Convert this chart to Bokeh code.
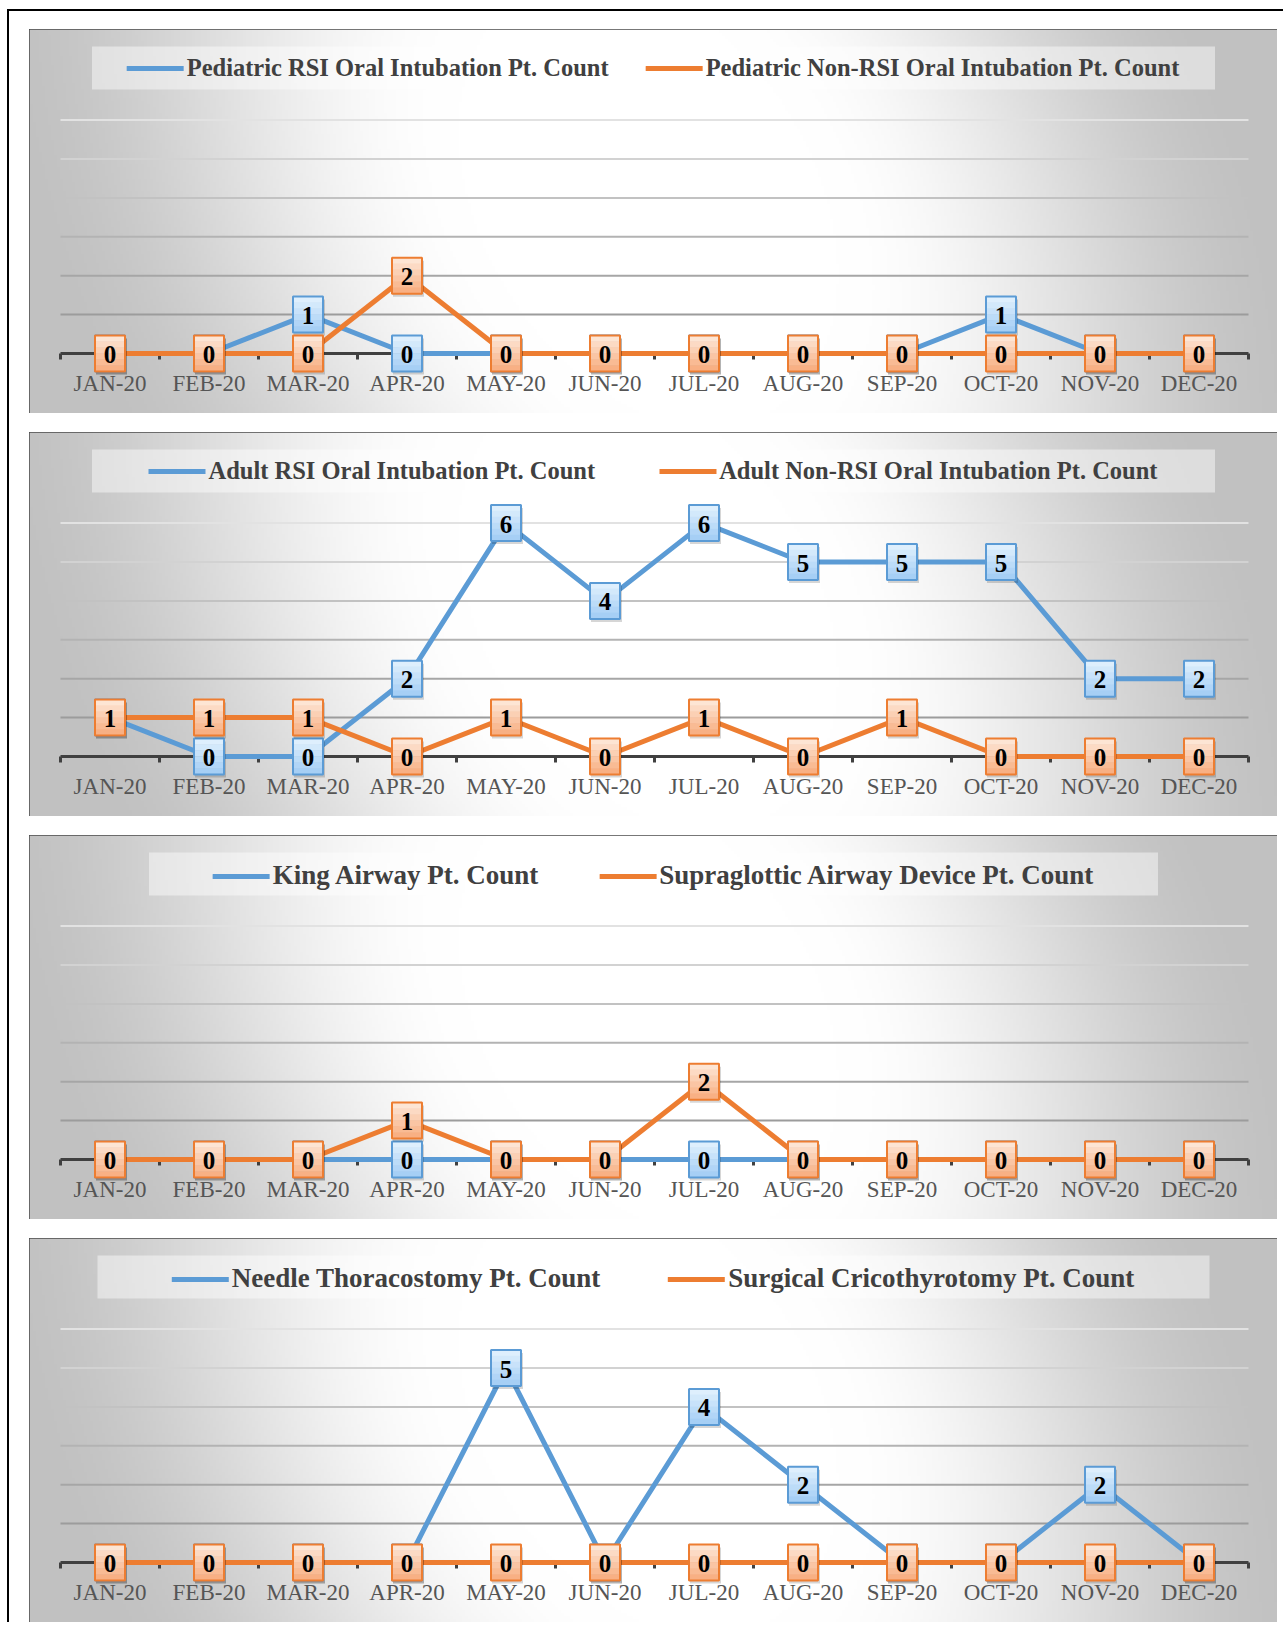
import numpy as np
from bokeh.plotting import figure
from bokeh.models import (ColumnDataSource, LinearAxis, FixedTicker, Range1d,
                          Legend, LegendItem)
from bokeh.layouts import column
from bokeh.embed import file_html
from bokeh.resources import INLINE
from bokeh.core.properties import value

# ---------------- data ----------------
months = ["JAN-20", "FEB-20", "MAR-20", "APR-20", "MAY-20", "JUN-20",
          "JUL-20", "AUG-20", "SEP-20", "OCT-20", "NOV-20", "DEC-20"]

ped_rsi_name = "Pediatric RSI Oral Intubation Pt. Count"
ped_rsi = [0, 0, 1, 0, 0, 0, 0, 0, 0, 1, 0, 0]
ped_nonrsi_name = "Pediatric Non-RSI Oral Intubation Pt. Count"
ped_nonrsi = [0, 0, 0, 2, 0, 0, 0, 0, 0, 0, 0, 0]

adult_rsi_name = "Adult RSI Oral Intubation Pt. Count"
adult_rsi = [1, 0, 0, 2, 6, 4, 6, 5, 5, 5, 2, 2]
adult_nonrsi_name = "Adult Non-RSI Oral Intubation Pt. Count"
adult_nonrsi = [1, 1, 1, 0, 1, 0, 1, 0, 1, 0, 0, 0]

king_name = "King Airway Pt. Count"
king = [0, 0, 0, 0, 0, 0, 0, 0, 0, 0, 0, 0]
sga_name = "Supraglottic Airway Device Pt. Count"
sga = [0, 0, 0, 1, 0, 0, 2, 0, 0, 0, 0, 0]

needle_name = "Needle Thoracostomy Pt. Count"
needle = [0, 0, 0, 0, 5, 0, 4, 2, 0, 0, 2, 0]
cric_name = "Surgical Cricothyrotomy Pt. Count"
cric = [0, 0, 0, 0, 0, 0, 0, 0, 0, 0, 0, 0]

y_ticks = [0, 1, 2, 3, 4, 5, 6]

# ---------------- style ----------------
BLUE = "#5b9bd5"
ORANGE = "#ed7d31"
BLUE_TOP, BLUE_BOTTOM = (222, 239, 253), (166, 207, 245)
ORANGE_TOP, ORANGE_BOTTOM = (253, 229, 212), (248, 176, 132)
GRID_COLORS = ["#9c9c9c", "#a6a6a6", "#b3b3b3", "#c2c2c2", "#d2d2d2", "#e2e2e2"]
SERIF = "Liberation Serif"

PW, PH = 1248, 384
LEFT_PX, RIGHT_PX = 31, 29
UNIT_X = 99.0
Y0_PX = 60
UNIT_Y = 38.9
BOX_W, BOX_H = 30, 36
N_BANDS = 6
LEG_TOP, LEG_H = 17, 43

n = len(months)
xs = list(range(n))
x_start = -0.5 - LEFT_PX / UNIT_X
x_end = n - 0.5 + RIGHT_PX / UNIT_X
y_start = -Y0_PX / UNIT_Y
y_end = (PH - Y0_PX) / UNIT_Y


def gradient(w, h):
    jj, ii = np.meshgrid(np.arange(w), np.arange(h))
    px = (jj + 0.5) * PW / w
    py_top = PH - (ii + 0.5) * PH / h
    xc = PW * 0.5 + 0.27 * (py_top - PH / 2)
    dx = px - xc
    dy = (py_top - PH * 0.45) * 0.8
    d = np.sqrt(dx ** 2 + dy ** 2)
    t = np.clip((d - 180) / 450.0, 0, 1)
    s = t * t * (3 - 2 * t)
    v = (255 - 62 * s).astype(np.uint8)
    img = np.empty((h, w), dtype=np.uint32)
    view = img.view(dtype=np.uint8).reshape((h, w, 4))
    view[:, :, 0] = v
    view[:, :, 1] = v
    view[:, :, 2] = v
    view[:, :, 3] = 255
    return img


def mix(c1, c2, t):
    return "#%02x%02x%02x" % tuple(int(round(a + (b - a) * t)) for a, b in zip(c1, c2))


BG = gradient(416, 128)


def draw_labels(p, vals, top, bottom, edge):
    # soft shadow
    p.rect(x=[x + 1.5 / UNIT_X for x in xs], y=[v - 3 / UNIT_Y for v in vals],
           width=BOX_W + 1, height=BOX_H, width_units="screen", height_units="screen",
           fill_color="black", fill_alpha=0.16, line_color=None)
    band_h = BOX_H / N_BANDS
    for k in range(N_BANDS):
        off = BOX_H / 2 - band_h * (k + 0.5)
        p.rect(x=xs, y=[v + off / UNIT_Y for v in vals], width=BOX_W,
               height=band_h + 0.6, width_units="screen", height_units="screen",
               fill_color=mix(top, bottom, k / (N_BANDS - 1)), line_color=None)
    src = ColumnDataSource(dict(x=xs, y=vals, label=[str(v) for v in vals]))
    p.rect(x="x", y="y", width=BOX_W, height=BOX_H, width_units="screen",
           height_units="screen", fill_color=None, line_color=edge,
           line_width=2, source=src)
    p.text(x="x", y="y", text="label", source=src, text_align="center",
           text_baseline="middle", y_offset=1,
           text_font=value(SERIF), text_font_style="bold",
           text_font_size="25px", text_color="black")


def make_panel(name_a, vals_a, name_b, vals_b, leg_font, leg_spacing, leg_box_w):
    p = figure(width=PW, height=PH,
               x_range=Range1d(x_start, x_end), y_range=Range1d(y_start, y_end),
               output_backend="svg", toolbar_location=None,
               x_axis_location=None, y_axis_location=None,
               min_border=0, outline_line_color="#4a4a4a", outline_line_width=3,
               background_fill_color="#e0e0e0", border_fill_color="white")
    p.grid.visible = False

    p.image_rgba(image=[BG], x=x_start, y=y_start, dw=x_end - x_start,
                 dh=y_end - y_start, level="image")

    # legend backdrop (wider than Bokeh's own legend padding allows)
    p.rect(x=[(x_start + x_end) / 2], y=[y_end - (LEG_TOP + LEG_H / 2) / UNIT_Y],
           width=leg_box_w, height=LEG_H, width_units="screen", height_units="screen",
           fill_color="white", fill_alpha=0.45, line_color=None, level="underlay")

    levels = y_ticks[1:]
    p.segment(x0=[-0.5] * len(levels), y0=levels, x1=[n - 0.5] * len(levels),
              y1=levels, line_color=GRID_COLORS, line_width=2, level="underlay")

    ax = LinearAxis(
        ticker=FixedTicker(ticks=xs, minor_ticks=[i - 0.5 for i in range(n + 1)]),
        major_label_overrides={i: m for i, m in enumerate(months)},
        fixed_location=0, bounds=(-0.5, n - 0.5),
        axis_line_color="#404040", axis_line_width=3,
        major_tick_line_color=None, major_tick_out=0, major_tick_in=0,
        minor_tick_line_color="#404040", minor_tick_line_width=3,
        minor_tick_out=6, minor_tick_in=0,
        major_label_standoff=11,
        major_label_text_font=SERIF, major_label_text_font_size="23px",
        major_label_text_color="#555555", level="underlay")
    p.add_layout(ax, "below")

    la = p.line(xs, vals_a, line_color=BLUE, line_width=5,
                line_join="round", line_cap="round")
    lb = p.line(xs, vals_b, line_color=ORANGE, line_width=5,
                line_join="round", line_cap="round")

    draw_labels(p, vals_a, BLUE_TOP, BLUE_BOTTOM, BLUE)
    draw_labels(p, vals_b, ORANGE_TOP, ORANGE_BOTTOM, ORANGE)

    legend = Legend(items=[LegendItem(label=name_a, renderers=[la]),
                           LegendItem(label=name_b, renderers=[lb])],
                    location="top_center", orientation="horizontal",
                    label_text_font=SERIF, label_text_font_style="bold",
                    label_text_font_size=leg_font, label_text_color="#404040",
                    glyph_width=57, glyph_height=26, label_height=26,
                    label_standoff=3, spacing=leg_spacing, padding=8, margin=LEG_TOP,
                    background_fill_alpha=0.0,
                    border_line_color="white", border_line_alpha=0.0)
    p.add_layout(legend)
    return p


panels = [
    make_panel(ped_rsi_name, ped_rsi, ped_nonrsi_name, ped_nonrsi, "24.5px", 37, 1123),
    make_panel(adult_rsi_name, adult_rsi, adult_nonrsi_name, adult_nonrsi, "24.5px", 64, 1123),
    make_panel(king_name, king, sga_name, sga, "27px", 61, 1009),
    make_panel(needle_name, needle, cric_name, cric, "27px", 68, 1112),
]

layout = column(*panels, spacing=19,
                styles={"margin-left": "7px", "margin-top": "9px",
                        "border-left": "2px solid black",
                        "border-top": "2px solid black",
                        "padding-left": "20px", "padding-top": "18px",
                        "padding-right": "6px"})

open("out.html", "w").write(file_html(layout, INLINE))
